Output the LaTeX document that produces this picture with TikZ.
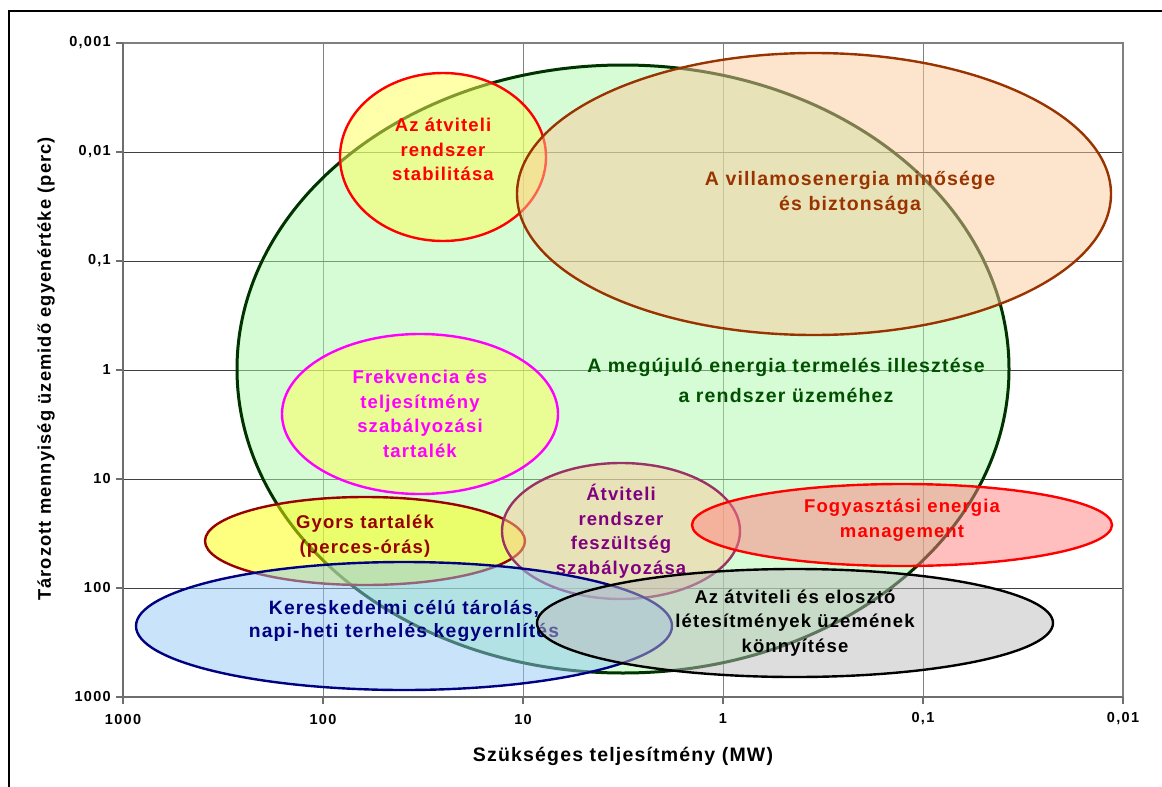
\documentclass[tikz,border=0pt]{standalone}
\usepackage{fontspec}
\setmainfont{Liberation Sans}[LetterSpace=6]
\usetikzlibrary{shapes.geometric}
\definecolor{greenfill}{RGB}{173,249,173}
\definecolor{greenline}{RGB}{0,51,0}
\definecolor{greentext}{RGB}{0,80,0}
\definecolor{yellowfill}{RGB}{255,255,85}
\definecolor{brightyellow}{RGB}{255,255,0}
\definecolor{peachfill}{RGB}{251,201,155}
\definecolor{brownline}{RGB}{153,51,0}
\definecolor{darkred}{RGB}{153,0,0}
\definecolor{pureRed}{RGB}{255,0,0}
\definecolor{pureMagenta}{RGB}{255,0,255}
\definecolor{mauveline}{RGB}{153,51,102}
\definecolor{purpletext}{RGB}{128,0,128}
\definecolor{pinkfill}{RGB}{255,128,128}
\definecolor{bluefill}{RGB}{145,200,245}
\definecolor{navyline}{RGB}{0,0,128}
\definecolor{grayfill}{RGB}{187,187,187}
\definecolor{axisgray}{RGB}{110,110,110}
\begin{document}
\begin{tikzpicture}[x=1pt,y=-1pt,
    blob/.style={ellipse, draw, line width=2.4pt, fill opacity=0.5, draw opacity=1,
      text opacity=1, inner sep=0pt, align=center,
      font=\bfseries\fontsize{18.5}{24.5}\selectfont},
    ticklab/.style={font=\bfseries\fontsize{14.5}{14.5}\selectfont\addfontfeatures{LetterSpace=9}, inner sep=1pt},
    axtitle/.style={font=\bfseries\fontsize{19.5}{19.5}\selectfont}]
    \useasboundingbox (0,0) rectangle (1162,787);
    %% frame
    \draw[line width=2pt] (9,787) -- (9,11) -- (1162,11);
    %% grid
    \foreach \i in {1,...,4}
        \draw[gray, line width=0.8pt] (123+200*\i,43) -- (123+200*\i,697);
    \foreach \j in {1,...,5}
        \draw[black!75, line width=0.8pt] (123,43+109*\j) -- (1123,43+109*\j);
    \draw[gray, line width=1.2pt] (123,43) -- (1123,43) -- (1123,697);
    %% axes
    \draw[axisgray, line width=2pt] (123,43) -- (123,697) -- (1123,697);
    \foreach \v [count=\j from 0] in {{0,001},{0,01},{0,1},1,10,100,1000} {
        \draw[axisgray, line width=1.5pt] (116,43+109*\j) -- (123,43+109*\j);
        \node[ticklab, anchor=east] (ylab\j) at (112,43+109*\j) {\v};
    }
    \foreach \v [count=\i from 0] in {1000,100,10,1,{0,1},{0,01}} {
        \draw[axisgray, line width=1.5pt] (123+200*\i,697) -- (123+200*\i,704);
        \node[ticklab] (xlab\i) at (123+200*\i,719) {\v};
    }
    \node[axtitle] (xtitle) at (623,756) {Szükséges teljesítmény (MW)};
    \node[axtitle, font=\bfseries\fontsize{18.3}{18.3}\selectfont, rotate=90] (ytitle) at (46,369)
        {Tározott mennyiség üzemidő egyenértéke (perc)};
    %% ellipses
    \node[blob, draw=greenline, fill=greenfill, line width=3pt,
        minimum width=772pt, minimum height=608pt] (megujulo) at (623,369) {};
    \node[font=\bfseries\fontsize{19.5}{30}\selectfont, text=greentext, align=center]
        (megujulotxt) at (786,380) {A megújuló energia termelés illesztése\\a rendszer üzeméhez};
    \node[blob, draw=pureRed, fill=yellowfill, text=pureRed,
        minimum width=206pt, minimum height=168pt] (stabil) at (443,157)
        {Az átviteli\\rendszer\\stabilitása\\[-9pt]};
    \node[blob, draw=brownline, fill=peachfill,
        minimum width=594pt, minimum height=282pt] (minoseg) at (814,194) {};
    \node[font=\bfseries\fontsize{19.5}{25}\selectfont, text=brownline, align=center]
        (minosegtxt) at (850,193) {A villamosenergia minősége\\és biztonsága};
    \node[blob, draw=pureMagenta, fill=yellowfill, text=pureMagenta,
        minimum width=276pt, minimum height=160pt] (frekv) at (420,414)
        {Frekvencia és\\teljesítmény\\szabályozási\\tartalék};
    \node[blob, draw=darkred, fill=brightyellow, text=darkred,
        minimum width=320pt, minimum height=88pt] (gyors) at (365,541)
        {Gyors tartalék\\(perces-órás)\\[-11pt]};
    \node[blob, draw=mauveline, fill=peachfill, text=purpletext,
        minimum width=238pt, minimum height=136pt] (feszult) at (621,531)
        {Átviteli\\rendszer\\feszültség\\szabályozása};
    \node[blob, draw=pureRed, fill=pinkfill, text=pureRed,
        minimum width=420pt, minimum height=82pt] (fogyaszt) at (902,525)
        {Fogyasztási energia\\management\\[-11pt]};
    \node[blob, draw=navyline, fill=bluefill, text=navyline,
        font=\bfseries\fontsize{19.3}{22.5}\selectfont,
        minimum width=536pt, minimum height=128pt] (keresk) at (404,626)
        {Kereskedelmi célú tárolás,\\napi-heti terhelés kegyernlítés\\[-8pt]};
    \node[blob, draw=black, fill=grayfill, text=black,
        minimum width=516pt, minimum height=108pt] (elosztas) at (795,623)
        {Az átviteli és elosztó\\létesítmények üzemének\\könnyítése};
\end{tikzpicture}
\end{document}
